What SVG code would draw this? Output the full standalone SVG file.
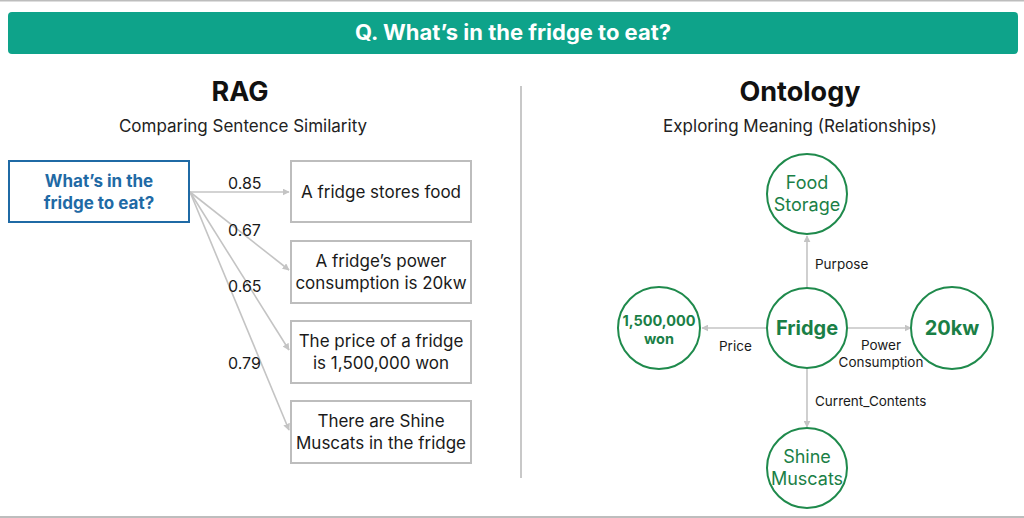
<svg xmlns="http://www.w3.org/2000/svg" width="1024" height="518" viewBox="0 0 1024 518">
<style>
text{font-family:Inter,"Noto Sans","Liberation Sans",sans-serif}
.t{font-weight:700;fill:#111;font-size:27px;text-anchor:middle}
.sub{fill:#222;font-size:17px;text-anchor:middle}
.box{fill:#fff;stroke:#bdbdbd;stroke-width:2}
.bt{fill:#1a1a1a;font-size:17px;text-anchor:middle}
.sc{fill:#1a1a1a;font-size:16px}
.edge{stroke:#c4c4c4;stroke-width:1.6;fill:none;marker-end:url(#ah)}
.node{fill:#fff;stroke:#1f8a4c;stroke-width:2}
.nt{fill:#1a7f46;font-size:18px;text-anchor:middle}
.nb{fill:#1a7f46;font-weight:700;text-anchor:middle}
.el{fill:#1a1a1a;font-size:13.5px}
</style>
<defs>
<marker id="ah" viewBox="0 0 10 10" refX="9" refY="5" markerWidth="7" markerHeight="7" markerUnits="userSpaceOnUse" orient="auto">
<path d="M0,0 L10,5 L0,10 z" fill="#c4c4c4"/>
</marker>
</defs>
<rect x="0" y="0" width="1024" height="518" fill="#fff"/>
<line x1="0" y1="0.5" x2="1024" y2="0.5" stroke="#bdbdbd" stroke-width="2"/>
<line x1="0" y1="517" x2="1024" y2="517" stroke="#bdbdbd" stroke-width="2"/>
<g id="banner">
<rect x="8" y="12" width="1010" height="42" rx="4" fill="#0ea38a"/>
<text x="513" y="40" fill="#fff" font-size="21" font-weight="700" text-anchor="middle" textLength="316" lengthAdjust="spacingAndGlyphs">Q. What’s in the fridge to eat?</text>
</g>
<g id="rag-header">
<text class="t" x="240" y="101">RAG</text>
<text class="sub" x="243" y="132">Comparing Sentence Similarity</text>
</g>
<line id="divider" x1="521" y1="86" x2="521" y2="478" stroke="#c8c8c8" stroke-width="2"/>
<g id="onto-header">
<text class="t" x="800" y="101">Ontology</text>
<text class="sub" x="800" y="132">Exploring Meaning (Relationships)</text>
</g>
<g id="connectors">
<line class="edge" x1="190" y1="192" x2="289" y2="192"/>
<line class="edge" x1="190" y1="192" x2="289" y2="270"/>
<line class="edge" x1="190" y1="192" x2="289" y2="350"/>
<line class="edge" x1="190" y1="192" x2="289" y2="430"/>
<text class="sc" x="228" y="189">0.85</text>
<text class="sc" x="228" y="236">0.67</text>
<text class="sc" x="228" y="292">0.65</text>
<text class="sc" x="228" y="369">0.79</text>
<line class="edge" x1="807" y1="288" x2="807" y2="236"/>
<line class="edge" x1="767" y1="328" x2="702" y2="328"/>
<line class="edge" x1="847" y1="328" x2="911" y2="328"/>
<line class="edge" x1="807" y1="368" x2="807" y2="427"/>
<text class="el" x="815" y="269">Purpose</text>
<text class="el" x="719" y="351">Price</text>
<text class="el" x="881" y="350" text-anchor="middle">Power</text>
<text class="el" x="881" y="367" text-anchor="middle">Consumption</text>
<text class="el" x="815" y="406">Current_Contents</text>
</g>
<g id="query">
<rect x="9" y="161" width="180" height="61" fill="#fff" stroke="#1f6aa5" stroke-width="2"/>
<text x="99" y="187" fill="#1f6aa5" font-size="17" font-weight="700" text-anchor="middle">What’s in the</text>
<text x="99" y="209" fill="#1f6aa5" font-size="17" font-weight="700" text-anchor="middle">fridge to eat?</text>
</g>
<g id="doc1">
<rect class="box" x="291" y="161" width="180" height="61"/>
<text class="bt" x="381" y="198">A fridge stores food</text>
</g>
<g id="doc2">
<rect class="box" x="291" y="241" width="180" height="62"/>
<text class="bt" x="381" y="267">A fridge’s power</text>
<text class="bt" x="381" y="289">consumption is 20kw</text>
</g>
<g id="doc3">
<rect class="box" x="291" y="321" width="180" height="62"/>
<text class="bt" x="381" y="347">The price of a fridge</text>
<text class="bt" x="381" y="369">is 1,500,000 won</text>
</g>
<g id="doc4">
<rect class="box" x="291" y="401" width="180" height="62"/>
<text class="bt" x="381" y="427">There are Shine</text>
<text class="bt" x="381" y="449">Muscats in the fridge</text>
</g>
<g id="food-storage">
<circle class="node" cx="807" cy="194" r="40"/>
<text class="nt" x="807" y="189">Food</text>
<text class="nt" x="807" y="211">Storage</text>
</g>
<g id="fridge">
<circle class="node" cx="807" cy="328" r="40"/>
<text class="nb" x="807" y="335" font-size="20">Fridge</text>
</g>
<g id="price">
<circle class="node" cx="659" cy="328" r="41"/>
<text class="nb" x="659" y="326" font-size="14.5">1,500,000</text>
<text class="nb" x="659" y="344" font-size="14.5">won</text>
</g>
<g id="power">
<circle class="node" cx="952" cy="328" r="41"/>
<text class="nb" x="952" y="335" font-size="20">20kw</text>
</g>
<g id="shine-muscats">
<circle class="node" cx="807" cy="468" r="40"/>
<text class="nt" x="807" y="463">Shine</text>
<text class="nt" x="807" y="485">Muscats</text>
</g>
</svg>
